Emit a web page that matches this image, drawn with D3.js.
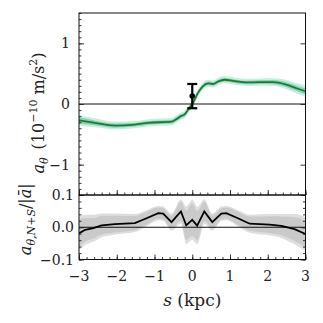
<!DOCTYPE html>
<html>
<head>
<meta charset="utf-8">
<script src="https://cdn.jsdelivr.net/npm/d3@7"></script>
<style>
  body { margin: 0; background: #fff; }
</style>
</head>
<body>
<div id="chart"></div>
<script>
// top panel: a_theta along s
var sTop   = [-3, -2.58, -2.05, -1.52, -1.17, -0.55, -0.42, -0.3, -0.2, -0.07, 0.02, 0.15, 0.28, 0.42, 0.55, 0.68, 0.86, 1.08, 1.43, 1.78, 2.14, 2.49, 2.76, 3];
var aTop   = [-0.27, -0.31, -0.355, -0.34, -0.31, -0.292, -0.25, -0.2, -0.17, -0.06, 0.02, 0.18, 0.29, 0.34, 0.33, 0.37, 0.4, 0.38, 0.355, 0.36, 0.36, 0.32, 0.26, 0.21];
var errIn  = [0.05, 0.04, 0.035, 0.03, 0.03, 0.03, 0.03, 0.03, 0.03, 0.03, 0.03, 0.03, 0.03, 0.03, 0.03, 0.03, 0.03, 0.03, 0.03, 0.03, 0.035, 0.04, 0.045, 0.05];
var errOut = [0.09, 0.075, 0.065, 0.06, 0.06, 0.06, 0.06, 0.06, 0.06, 0.06, 0.06, 0.06, 0.06, 0.06, 0.06, 0.06, 0.06, 0.06, 0.06, 0.06, 0.065, 0.075, 0.085, 0.09];

// single measurement with error bar
var pointS = [0];
var pointA = [0.13];
var pointErr = [0.2];

// bottom panel: a_theta,N+S / |a|
var sBot   = [-3, -2.84, -2.62, -2.4, -2.05, -1.52, -1.21, -0.9, -0.77, -0.55, -0.3, -0.16, 0, 0.13, 0.32, 0.53, 0.77, 0.9, 1.21, 1.52, 2.05, 2.36, 2.71, 3];
var rBot   = [-0.019, -0.008, -0.003, 0.006, 0.01, 0.013, 0.028, 0.044, 0.042, 0.016, 0.049, 0.006, 0.023, 0.005, 0.049, 0.016, 0.042, 0.044, 0.028, 0.011, 0.008, 0.004, -0.006, -0.021];
var rIn    = [0.042, 0.037, 0.032, 0.029, 0.026, 0.022, 0.02, 0.017, 0.017, 0.02, 0.03, 0.045, 0.05, 0.045, 0.03, 0.02, 0.017, 0.017, 0.02, 0.022, 0.026, 0.029, 0.037, 0.042];
var rOut   = [0.052, 0.047, 0.042, 0.037, 0.033, 0.028, 0.025, 0.022, 0.022, 0.026, 0.038, 0.058, 0.062, 0.058, 0.038, 0.026, 0.022, 0.022, 0.025, 0.028, 0.033, 0.037, 0.047, 0.052];

var xTicks = [-3, -2, -1, 0, 1, 2, 3];
var yTopTicks = [-1, 0, 1];
var yBotTicks = [-0.1, 0.0, 0.1];

var W = 323, H = 323;
var left = 79, right = 305.5;
var topY0 = 13, topY1 = 195, botY1 = 259.5;
var FONT = "DejaVu Serif";

var svg = d3.select("#chart").append("svg")
    .attr("width", W)
    .attr("height", H);

var x = d3.scaleLinear().domain([-3, 3]).range([left, right]);
var yTop = d3.scaleLinear().domain([-1.5, 1.5]).range([topY1, topY0]);
var yBot = d3.scaleLinear().domain([-0.1, 0.1]).range([botY1, topY1]);

svg.append("defs").append("clipPath").attr("id", "clipTop")
    .append("rect").attr("x", left).attr("y", topY0).attr("width", right - left).attr("height", topY1 - topY0);
svg.select("defs").append("clipPath").attr("id", "clipBot")
    .append("rect").attr("x", left).attr("y", topY1).attr("width", right - left).attr("height", botY1 - topY1);

// ---- top panel
var gTop = svg.append("g").attr("clip-path", "url(#clipTop)");

var topData = sTop.map(function (d, i) {
    return { s: d, v: aTop[i], e1: errIn[i], e2: errOut[i] };
});

function band(ys, key) {
    return d3.area()
        .curve(d3.curveMonotoneX)
        .x(function (d) { return x(d.s); })
        .y0(function (d) { return ys(d.v - d[key]); })
        .y1(function (d) { return ys(d.v + d[key]); });
}

gTop.append("path").datum(topData)
    .attr("d", band(yTop, "e2"))
    .attr("fill", "#c9eee0");
gTop.append("path").datum(topData)
    .attr("d", band(yTop, "e1"))
    .attr("fill", "#86d3b0");

gTop.append("line")
    .attr("x1", left).attr("x2", right)
    .attr("y1", yTop(0)).attr("y2", yTop(0))
    .attr("stroke", "#111").attr("stroke-width", 1);

gTop.append("path").datum(topData)
    .attr("d", d3.line().curve(d3.curveMonotoneX)
        .x(function (d) { return x(d.s); })
        .y(function (d) { return yTop(d.v); }))
    .attr("fill", "none")
    .attr("stroke", "#1c7a35")
    .attr("stroke-width", 1.8);

// error bar
pointS.forEach(function (s, i) {
    var g = svg.append("g").attr("stroke", "#000").attr("stroke-width", 2.2);
    var cx = x(s);
    g.append("line").attr("x1", cx).attr("x2", cx)
        .attr("y1", yTop(pointA[i] - pointErr[i])).attr("y2", yTop(pointA[i] + pointErr[i]));
    g.append("line").attr("x1", cx - 5).attr("x2", cx + 5)
        .attr("y1", yTop(pointA[i] - pointErr[i])).attr("y2", yTop(pointA[i] - pointErr[i]));
    g.append("line").attr("x1", cx - 5).attr("x2", cx + 5)
        .attr("y1", yTop(pointA[i] + pointErr[i])).attr("y2", yTop(pointA[i] + pointErr[i]));
    svg.append("circle").attr("cx", cx).attr("cy", yTop(pointA[i])).attr("r", 2.8).attr("fill", "#000");
});

// ---- bottom panel
var gBot = svg.append("g").attr("clip-path", "url(#clipBot)");

var botData = sBot.map(function (d, i) {
    return { s: d, v: rBot[i], e1: rIn[i], e2: rOut[i] };
});

gBot.append("path").datum(botData)
    .attr("d", band(yBot, "e2"))
    .attr("fill", "#dedede");
gBot.append("path").datum(botData)
    .attr("d", band(yBot, "e1"))
    .attr("fill", "#cacaca");

gBot.append("line")
    .attr("x1", left).attr("x2", right)
    .attr("y1", yBot(0)).attr("y2", yBot(0))
    .attr("stroke", "#111").attr("stroke-width", 1);

gBot.append("path").datum(botData)
    .attr("d", d3.line()
        .x(function (d) { return x(d.s); })
        .y(function (d) { return yBot(d.v); }))
    .attr("fill", "none")
    .attr("stroke", "#000")
    .attr("stroke-width", 1.8);

// ---- axes (ticks inward)
function inAxis(axisFn, scale, pos, values, size) {
    var a = axisFn(scale).tickValues(values).tickSizeInner(size).tickSizeOuter(0).tickFormat("");
    var g = svg.append("g").attr("transform", pos).call(a);
    g.select(".domain").remove();
    g.selectAll(".tick line").attr("stroke", "#222").attr("stroke-width", 0.9);
    return g;
}

var xMinor = d3.range(-3, 3.001, 0.2).map(function (d) { return +d.toFixed(2); });
var yTopMinor = d3.range(-1.5, 1.501, 0.1).map(function (d) { return +d.toFixed(2); });
var yBotMinor = d3.range(-0.1, 0.1001, 0.02).map(function (d) { return +d.toFixed(3); });

// top panel
inAxis(d3.axisLeft, yTop, "translate(" + left + ",0)", yTopMinor, -2.5);
inAxis(d3.axisLeft, yTop, "translate(" + left + ",0)", yTopTicks, -5);
inAxis(d3.axisRight, yTop, "translate(" + right + ",0)", yTopTicks, -5);
inAxis(d3.axisBottom, x, "translate(0," + topY1 + ")", xMinor, -2.5);
inAxis(d3.axisBottom, x, "translate(0," + topY1 + ")", xTicks, -5);

// bottom panel
inAxis(d3.axisLeft, yBot, "translate(" + left + ",0)", yBotMinor, -2.5);
inAxis(d3.axisLeft, yBot, "translate(" + left + ",0)", yBotTicks, -5);
inAxis(d3.axisRight, yBot, "translate(" + right + ",0)", yBotMinor, -2.5);
inAxis(d3.axisRight, yBot, "translate(" + right + ",0)", yBotTicks, -5);
inAxis(d3.axisBottom, x, "translate(0," + botY1 + ")", xMinor, -2.5);
inAxis(d3.axisBottom, x, "translate(0," + botY1 + ")", xTicks, -5);

// frames
svg.append("rect").attr("x", left).attr("y", topY0).attr("width", right - left).attr("height", topY1 - topY0)
    .attr("fill", "none").attr("stroke", "#111").attr("stroke-width", 1);
svg.append("rect").attr("x", left).attr("y", topY1).attr("width", right - left).attr("height", botY1 - topY1)
    .attr("fill", "none").attr("stroke", "#111").attr("stroke-width", 1);

// tick labels
function fmtMinus(v, digits) {
    var s = digits ? Math.abs(v).toFixed(digits) : String(Math.abs(v));
    return (v < 0 ? "\u2212" : "") + s;
}

function addText(sel) {
    return sel.append("text").style("font-family", FONT).attr("fill", "#222");
}

yTopTicks.forEach(function (d) {
    addText(svg).attr("x", left - 9).attr("y", yTop(d))
        .attr("dy", "0.36em").attr("text-anchor", "end").style("font-size", "14px")
        .text(fmtMinus(d));
});

yBotTicks.forEach(function (d) {
    addText(svg).attr("x", left - 5).attr("y", yBot(d))
        .attr("dy", "0.36em").attr("text-anchor", "end").style("font-size", "14px")
        .text(fmtMinus(d, 1));
});

xTicks.forEach(function (d) {
    addText(svg).attr("x", x(d)).attr("y", 281)
        .attr("text-anchor", "middle").style("font-size", "14px")
        .text(fmtMinus(d));
});

// axis labels
var xl = addText(svg).attr("x", x(0)).attr("y", 306).attr("text-anchor", "middle").style("font-size", "17px");
xl.append("tspan").style("font-style", "italic").text("s");
xl.append("tspan").text(" (kpc)");

var yl = addText(svg)
    .attr("transform", "translate(44," + ((topY0 + topY1) / 2 + 9) + ") rotate(-90)")
    .attr("text-anchor", "middle").style("font-size", "16px");
yl.append("tspan").style("font-style", "italic").text("a");
yl.append("tspan").style("font-style", "italic").style("font-size", "11px").attr("dy", 4).text("\u03b8");
yl.append("tspan").attr("dy", -4).text("\u2002(10");
yl.append("tspan").style("font-size", "11px").attr("dy", -7).text("\u221210");
yl.append("tspan").attr("dy", 7).text(" m/s");
yl.append("tspan").style("font-size", "11px").attr("dy", -7).text("2");
yl.append("tspan").attr("dy", 7).text(")");

var yl2 = addText(svg)
    .attr("transform", "translate(31," + ((topY1 + botY1) / 2 - 8) + ") rotate(-90)")
    .attr("text-anchor", "middle").style("font-size", "16px");
yl2.append("tspan").style("font-style", "italic").text("a");
yl2.append("tspan").style("font-style", "italic").style("font-size", "11px").attr("dy", 4).text("\u03b8,N+S");
yl2.append("tspan").attr("dy", -4).text("/|");
yl2.append("tspan").style("font-style", "italic").text("a\u0304");
yl2.append("tspan").text("|");
</script>
</body>
</html>
